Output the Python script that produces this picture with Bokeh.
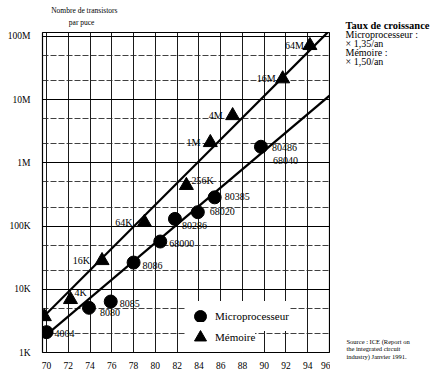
from bokeh.plotting import figure
from bokeh.layouts import row, column
from bokeh.models import ColumnDataSource, FixedTicker, Label, Legend, LegendItem, Range1d
from bokeh.core.properties import value
from bokeh.embed import file_html
from bokeh.resources import INLINE

# ---------------- data ----------------
micro_years = [70.0, 73.9, 75.9, 78.0, 80.45, 81.8, 83.9, 85.45, 89.7]
micro_counts = [2.1e3, 5.1e3, 6.4e3, 2.65e4, 5.7e4, 1.3e5, 1.66e5, 2.85e5, 1.8e6]
micro_names = ["4004", "8080", "8085", "8086", "68000", "80286", "68020", "80385", "80486"]
micro_extra_name = "68040"          # second chip on the last point

mem_years = [69.8, 72.2, 75.1, 79.0, 82.85, 85.05, 87.1, 91.7, 94.2]
mem_counts = [3.7e3, 6.9e3, 2.85e4, 1.15e5, 4.4e5, 2.1e6, 5.6e6, 2.14e7, 7.2e7]
mem_names = ["", "4K", "16K", "64K", "256K", "1M", "4M", "16M", "64M"]

micro_trend_years = [69.72, 96.0]
micro_trend_counts = [1.73e3, 1.16e7]
mem_trend_years = [69.45, 95.83]
mem_trend_counts = [3.3e3, 1.16e8]

x_ticks = [70, 72, 74, 76, 78, 80, 82, 84, 86, 88, 90, 92, 94, 96]
y_ticks = [1e3, 1e4, 1e5, 1e6, 1e7, 1e8]
y_tick_labels = ["1K", "10K", "100K", "1M", "10M", "100M"]

legend_labels = ["Microprocesseur", "Mémoire"]
rate_lines = ["Taux de croissance", "Microprocesseur :", "× 1,35/an", "Mémoire :", "× 1,50/an"]
source_lines = ["Source : ICE (Report on", "the integrated circuit", "industry) Janvier 1991."]
y_title_lines = ["Nombre de transistors", "par puce"]

# ---------------- styles / label placement ----------------
micro_dx = [8, 11, 9, 9, 9, 7, 12, 10, 11]
micro_dy = [1, 5, 2, 3, 2, 7, -1, -1, 1]
extra_dx, extra_dy = 12, 14
mem_dx = [0, 4, -12, -12, 5, -10, -10, -7, -6]
mem_dy = [0, -7, 0, 0, -5, 0, 0, 0, 0]
mem_align = ["left", "left", "right", "right", "left", "right", "right", "right", "right"]

SERIF = "Liberation Serif"

# ---------------- main chart ----------------
p = figure(frame_width=287, frame_height=320, output_backend="svg", toolbar_location=None,
           y_axis_type="log", x_range=(69.63, 96.0), y_range=(1e3, 1.156e8),
           min_border_left=42, min_border_right=1, min_border_top=2,
           min_border_bottom=21)
p.background_fill_color = "white"
p.border_fill_color = "white"
p.outline_line_color = "black"
p.outline_line_width = 1.2

p.xgrid.ticker = FixedTicker(ticks=x_ticks)
p.xgrid.grid_line_color = "#1a1a1a"
p.xgrid.grid_line_width = 1
minor_y = []
for d in y_ticks[:-1]:
    minor_y += [2 * d, 5 * d]
p.ygrid.ticker = FixedTicker(ticks=y_ticks, minor_ticks=minor_y)
p.ygrid.grid_line_color = "black"
p.ygrid.grid_line_width = 1.2
p.ygrid.minor_grid_line_color = "#2a2a2a"
p.ygrid.minor_grid_line_width = 0.9
p.ygrid.minor_grid_line_dash = "6 2"

p.xaxis.ticker = FixedTicker(ticks=x_ticks)
p.yaxis.ticker = FixedTicker(ticks=y_ticks)
p.yaxis.major_label_overrides = {t: l for t, l in zip(y_ticks, y_tick_labels)}
for ax in (p.xaxis[0], p.yaxis[0]):
    ax.axis_line_color = None
    ax.major_tick_line_color = None
    ax.minor_tick_line_color = None
    ax.major_label_text_font = SERIF
    ax.major_label_text_font_size = "9.5px"
    ax.major_label_text_color = "black"
p.xaxis.major_label_standoff = 3
p.yaxis.major_label_standoff = 6

p.line(micro_trend_years, micro_trend_counts, line_color="black", line_width=2.2)
p.line(mem_trend_years, mem_trend_counts, line_color="black", line_width=2.2)

r_micro = p.scatter(micro_years, micro_counts, marker="circle", size=13,
                    fill_color="black", line_color="black")
r_mem = p.scatter(mem_years, mem_counts, marker="triangle", size=14,
                  fill_color="black", line_color="black")

lab_x = micro_years + [micro_years[-1]] + mem_years
lab_y = micro_counts + [micro_counts[-1]] + mem_counts
lab_t = micro_names + [micro_extra_name] + mem_names
lab_dx = micro_dx + [extra_dx] + mem_dx
lab_dy = micro_dy + [extra_dy] + mem_dy
lab_al = ["left"] * (len(micro_names) + 1) + mem_align
src = ColumnDataSource(dict(x=lab_x, y=lab_y, text=lab_t, dx=lab_dx, dy=lab_dy, al=lab_al))
p.text(x="x", y="y", text="text", x_offset="dx", y_offset="dy", text_align="al",
       text_baseline="middle", text_font=value(SERIF), text_font_size="10px",
       text_color="black", source=src)

def make_legend(label, renderer, loc, pad):
    return Legend(items=[LegendItem(label=label, renderers=[renderer])],
                  location=loc, glyph_width=30, glyph_height=30, spacing=0,
                  label_standoff=0, padding=pad, margin=0,
                  background_fill_color="white", background_fill_alpha=1,
                  border_line_color=None, label_text_font=SERIF,
                  label_text_font_size="11px", label_text_color="black")

p.add_layout(make_legend(legend_labels[0], r_micro, (143, 21), 2))
p.add_layout(make_legend(legend_labels[1], r_mem, (143, 0), 1))

# ---------------- top strip: y-axis title ----------------
def blank(w, h, xr, yr):
    f = figure(width=w, height=h, output_backend="svg", toolbar_location=None,
               x_range=Range1d(*xr), y_range=Range1d(*yr),
               x_axis_location=None, y_axis_location=None,
               min_border_left=0, min_border_right=0, min_border_top=0, min_border_bottom=0)
    f.outline_line_color = None
    f.grid.visible = False
    f.background_fill_color = "white"
    f.border_fill_color = "white"
    return f

top = blank(330, 30, (0, 330), (30, 0))
top.add_layout(Label(x=10, y=10, text=y_title_lines[0], text_font=SERIF,
                     text_font_size="7.5px", text_baseline="middle", text_color="black"))
top.add_layout(Label(x=45, y=22, text=y_title_lines[1], text_font=SERIF,
                     text_font_size="7.5px", text_baseline="middle", text_align="center",
                     text_color="black"))

# ---------------- right side: growth rates and source ----------------
side = blank(107, 373, (330, 437), (373, 0))
rate_y = [25, 34, 43, 52, 61]
for i, (t, yy) in enumerate(zip(rate_lines, rate_y)):
    side.add_layout(Label(x=345, y=yy, text=t, text_font=SERIF,
                          text_font_size="10.5px" if i == 0 else "10px",
                          text_font_style="bold" if i == 0 else "normal",
                          text_baseline="middle", text_color="black"))
src_y = [341, 348, 355.5]
for t, yy in zip(source_lines, src_y):
    side.add_layout(Label(x=346, y=yy, text=t, text_font=SERIF, text_font_size="6.5px",
                          text_baseline="middle", text_color="black"))

layout = row(column(top, p, spacing=0), side, spacing=0)
open("out.html", "w").write(file_html(layout, INLINE))
